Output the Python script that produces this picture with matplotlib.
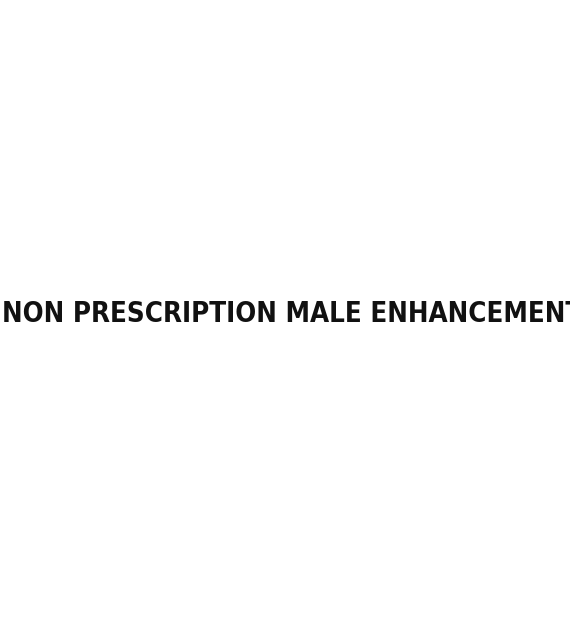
import matplotlib
matplotlib.use("Agg")
import matplotlib.pyplot as plt

title_text = "NON PRESCRIPTION MALE ENHANCEMENT"

fig = plt.figure(figsize=(5.7, 6.42), dpi=100)
fig.patch.set_facecolor("white")

# text starts near left edge and runs off the right side
fig.text(2 / 570, 1 - 322 / 642, title_text, ha="left", va="baseline",
         fontsize=19.8, fontweight="bold", family="DejaVu Sans",
         color="#111111", fontstretch="condensed")

fig.savefig("out.png", dpi=100, facecolor="white")
